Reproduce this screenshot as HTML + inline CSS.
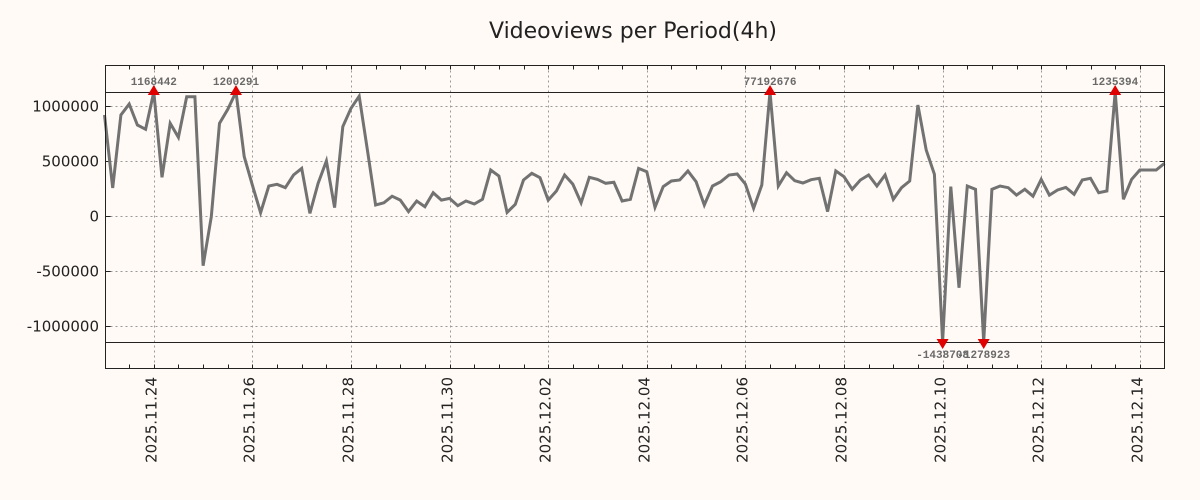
<!DOCTYPE html>
<html><head><meta charset="utf-8"><style>
html,body{margin:0;padding:0;background:#fffaf6;}
svg{display:block;font-family:"DejaVu Sans","Liberation Sans",sans-serif;}
</style></head><body>
<svg id="chart" width="1200" height="500" viewBox="0 0 1200 500" xmlns="http://www.w3.org/2000/svg">
<rect x="0" y="0" width="1200" height="500" fill="#fffaf6"/>
<text x="633" y="38" text-anchor="middle" font-size="22" fill="#222">Videoviews per Period(4h)</text>
<g id="grid"></g>
<g id="axes"></g>
<g id="series"></g>
<g id="markers"></g>
<rect x="105.5" y="65.5" width="1059" height="303" fill="none" stroke="#222" stroke-width="1"/>
</svg>
<script>
const startDay = 0; // 2025.11.23 00:00, step 4h
const values = [918000,255000,918000,1018000,827000,788000,1168442,352000,843000,715000,1085000,1085000,-452000,-6000,843000,970000,1200291,540000,280000,30000,273000,288000,257000,373000,433000,24000,297000,500000,76000,812000,979000,1090000,600000,100000,120000,180000,145000,40000,136000,85000,212000,145000,160000,94000,136000,109000,152000,418000,364000,33000,106000,327000,388000,348000,145000,227000,373000,290000,120000,352000,333000,297000,306000,136000,152000,433000,403000,79000,267000,318000,327000,409000,312000,100000,273000,312000,373000,382000,290000,70000,282000,77192676,273000,394000,321000,300000,330000,343000,40000,410000,357000,243000,327000,373000,273000,373000,152000,257000,318000,1009000,600000,379000,-1438708,267000,-652000,273000,243000,-1278923,243000,273000,257000,190000,243000,180000,333000,190000,236000,260000,197000,327000,343000,212000,227000,1235394,152000,333000,418000,418000,418000,479000];
const yTicks = [1000000,500000,0,-500000,-1000000];
const yTickLabels = ["1000000","500000","0","-500000","-1000000"];
const xTickDays = [1,3,5,7,9,11,13,15,17,19,21];
const xTickLabels = ["2025.11.24","2025.11.26","2025.11.28","2025.11.30","2025.12.02","2025.12.04","2025.12.06","2025.12.08","2025.12.10","2025.12.12","2025.12.14"];
const clipHigh = 1127000, clipLow = -1145000;

const NS="http://www.w3.org/2000/svg";
const L=105.5,R=1164.5,T=65.5,B=368.5;
function xs(day){return 104.5+day*49.3;}
function ys(v){return 216-v*110/1e6;}
function mk(tag,attrs,parent){const e=document.createElementNS(NS,tag);for(const k in attrs)e.setAttribute(k,attrs[k]);parent.appendChild(e);return e;}
const grid=document.getElementById('grid'),axes=document.getElementById('axes'),series=document.getElementById('series'),markers=document.getElementById('markers');

yTicks.forEach((v,i)=>{
  const y=Math.round(ys(v))+0.5;
  const g=mk('line',{x1:L,x2:R,y1:y,y2:y,stroke:'#999','stroke-dasharray':'2,3','stroke-width':1},grid);
  
  
  const t=mk('line',{x1:L,x2:L+5,y1:y,y2:y,stroke:'#222'},axes);
  
  
  const t2=mk('line',{x1:R-5,x2:R,y1:y,y2:y,stroke:'#222'},axes);
  
  
  const lb=mk('text',{x:99,y:y+5,'text-anchor':'end','font-size':15,fill:'#222'},axes);
  lb.textContent=yTickLabels[i];
  
  
});
for(let d=0.5; xs(d)<R; d+=0.5){
  const x=Math.round(xs(d))+0.5; if(x<=L)continue;
  const t=mk('line',{x1:x,x2:x,y1:T,y2:T+4,stroke:'#222'},axes);
  
  
  const t2=mk('line',{x1:x,x2:x,y1:B-4,y2:B,stroke:'#222'},axes);
  
  
}
xTickDays.forEach((d,i)=>{
  const x=Math.round(xs(d))+0.5;
  const g=mk('line',{x1:x,x2:x,y1:T,y2:B,stroke:'#999','stroke-dasharray':'2,3'},grid);
  
  
  const lb=mk('text',{x:0,y:0,'text-anchor':'end','font-size':15,fill:'#222',transform:`translate(${x+2},377) rotate(-90)`},axes);
  lb.textContent=xTickLabels[i];
  
  
});
[clipHigh,clipLow].forEach((v,i)=>{
  const y=Math.round(ys(v))+0.5;
  const l=mk('line',{x1:L,x2:R,y1:y,y2:y,stroke:'#222'},grid);
  
  
});
const pts=values.map((v,i)=>{const c=Math.max(clipLow,Math.min(clipHigh,v));return [xs(startDay+i/6),ys(c)];});
const path=mk('polyline',{points:pts.map(p=>p[0].toFixed(1)+','+p[1].toFixed(1)).join(' '),fill:'none',stroke:'#727272','stroke-width':3,'stroke-linejoin':'miter'},series);


values.forEach((v,i)=>{
  if(v<=clipHigh && v>=clipLow)return;
  const x=xs(startDay+i/6);
  const up=v>clipHigh, y=ys(up?clipHigh:clipLow);
  const tri=mk('polygon',{points:up?`${x-6},${y+3} ${x+6},${y+3} ${x},${y-7}`:`${x-6},${y-3} ${x+6},${y-3} ${x},${y+7}`,fill:'#e00000'},markers);
  
  
  const lb=mk('text',{x:x,y:up?y-7:y+16,'text-anchor':'middle','font-size':11,'font-weight':'bold',fill:'#6a6a6a','font-family':'"Liberation Mono",monospace'},markers);
  lb.textContent=String(v);
  
  
});
</script>
</body></html>
